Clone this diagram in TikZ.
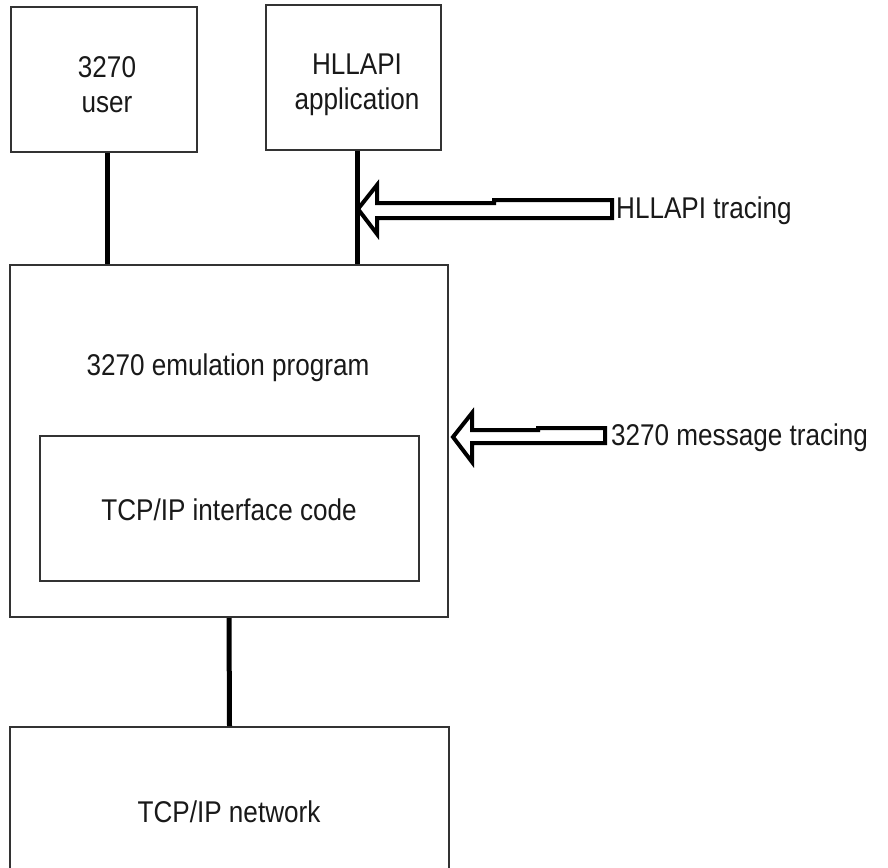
\documentclass[tikz,border=0pt]{standalone}
\usepackage{fontspec}
\setmainfont[FakeStretch=0.87]{Liberation Sans}
\begin{document}
\begin{tikzpicture}[x=1pt,y=-1pt,
  box/.style={draw=black!80, line width=2pt, inner sep=0pt, fill=white},
  txt/.style={font=\fontsize{30}{35}\selectfont, align=center, inner sep=0pt, text=black!90},
  conn/.style={draw=black, line width=5pt},
  hollow/.style={draw=black, line width=4pt, fill=white, line join=miter}]
\useasboundingbox (0,0) rectangle (888,867);
\clip (0,0) rectangle (888,867);
% boxes
\node[box, minimum width=186pt, minimum height=145pt] (user) at (104,79.5) {};
\node[box, minimum width=175pt, minimum height=145pt] (hll) at (353.5,77.5) {};
\node[box, minimum width=438pt, minimum height=352pt] (emu) at (229,441) {};
\node[box, minimum width=379pt, minimum height=145pt] (tcp) at (229.5,508) {};
\node[box, minimum width=439pt, minimum height=160pt] (net) at (229.5,807) {};
% texts
\node[txt] (usert) at (107,85) {3270\\user};
\node[txt] (hllt) at (357,85) {HLLAPI\\application};
\node[txt] (emut) at (228,368) {3270 emulation program};
\node[txt] (tcpt) at (229,510) {TCP/IP interface code};
\node[txt] (nett) at (229,812) {TCP/IP network};
% connectors
\draw[conn] ([xshift=3pt]user.south) -- ([xshift=3pt]user.south |- emu.north);
\draw[conn] ([xshift=3.5pt]hll.south) -- ([xshift=3.5pt]hll.south |- emu.north);
\draw[conn] (emu.south) -- (net.north);
% tracing labels
\node[txt, anchor=west] (htr) at (616,211) {HLLAPI tracing};
\node[txt, anchor=west] (mtr) at (611,438) {3270 message tracing};
% hollow arrows
\coordinate (htip) at (358,209);
\draw[hollow] (htip) -- ++(19,-24) -- ++(0,18) -- ++(117,0) -- ++(0,-3) -- ++(118,0)
  -- ++(0,18) -- ++(-235,0) -- ++(0,16) -- cycle;
\coordinate (mtip) at (453,437);
\draw[hollow] (mtip) -- ++(19,-24) -- ++(0,17) -- ++(66,0) -- ++(0,-2) -- ++(67,0)
  -- ++(0,15) -- ++(-133,0) -- ++(0,19) -- cycle;
\end{tikzpicture}
\end{document}
